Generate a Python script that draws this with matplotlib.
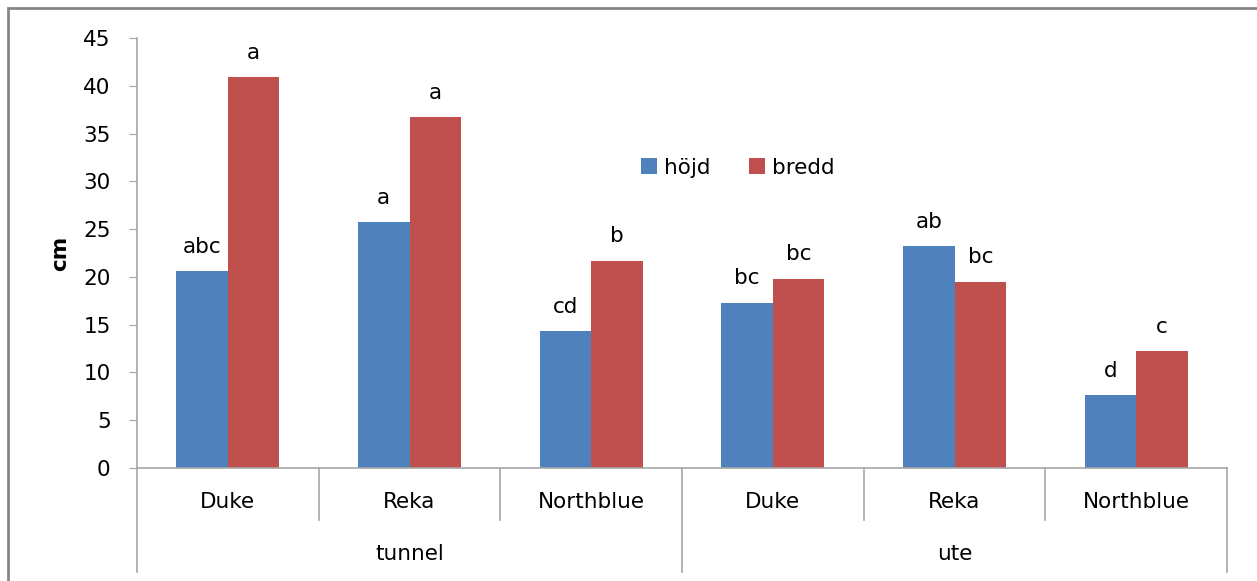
import numpy as np
import matplotlib.pyplot as plt
from matplotlib.patches import Rectangle

# Data
places = ['tunnel', 'ute']
sorter = ['Duke', 'Reka', 'Northblue', 'Duke', 'Reka', 'Northblue']
hojd = [20.6, 25.7, 14.3, 17.3, 23.2, 7.6]
bredd = [40.9, 36.7, 21.7, 19.8, 19.5, 12.2]
hojd_letters = ['abc', 'a', 'cd', 'bc', 'ab', 'd']
bredd_letters = ['a', 'a', 'b', 'bc', 'bc', 'c']

blue = '#4F81BD'
red = '#C0504D'
grey = '#A6A6A6'
fs = 15.5

plt.rcParams['font.family'] = ['DejaVu Sans']

fig = plt.figure(figsize=(12.57, 5.81), dpi=100)
ax = fig.add_axes([137 / 1257, 113 / 581, 1090 / 1257, 430 / 581])

x = np.arange(len(sorter))
w = 0.284
ax.bar(x - w / 2, hojd, w, color=blue, label='höjd')
ax.bar(x + w / 2, bredd, w, color=red, label='bredd')

for i in range(len(sorter)):
    ax.text(x[i] - w / 2, hojd[i] + 1.5, hojd_letters[i], ha='center', va='bottom', fontsize=fs)
    ax.text(x[i] + w / 2, bredd[i] + 1.5, bredd_letters[i], ha='center', va='bottom', fontsize=fs)

ax.set_xlim(-0.5, len(sorter) - 0.5)
ax.set_ylim(0, 45)
ax.set_yticks(range(0, 46, 5))
ax.tick_params(axis='y', labelsize=fs, length=6, color=grey, pad=13)
ax.set_xticks([])
for s in ['top', 'right']:
    ax.spines[s].set_visible(False)
ax.spines['left'].set_color(grey)
ax.spines['bottom'].set_color(grey)
ax.spines['left'].set_linewidth(1.2)
ax.spines['bottom'].set_linewidth(1.2)
ax.set_ylabel('cm', fontsize=fs, fontweight='bold')
ax.yaxis.set_label_coords(-0.061, 0.5)

# multi-level category axis
tr = ax.get_xaxis_transform()
for i, name in enumerate(sorter):
    ax.text(x[i], -0.078, name, transform=tr, ha='center', va='center', fontsize=fs)
for b in [0.5, 1.5, 3.5, 4.5]:
    ax.plot([b, b], [0, -0.121], transform=tr, color=grey, lw=1.2, clip_on=False)
for b in [-0.5, 2.5, 5.5]:
    ax.plot([b, b], [0, -0.242], transform=tr, color=grey, lw=1.2, clip_on=False)
for j, p in enumerate(places):
    ax.text(1 + 3 * j, -0.2, p, transform=tr, ha='center', va='center', fontsize=fs)

ax.legend(loc='center', bbox_to_anchor=(0.551, 0.698), ncol=2, frameon=False,
          fontsize=fs, handlelength=0.75, handleheight=0.75, handletextpad=0.3,
          columnspacing=1.8)

# outer chart border
fig.add_artist(Rectangle((8 / 1257, -0.1), 1.2, (573 / 581) + 0.1, transform=fig.transFigure,
                         fill=False, edgecolor='#868686', lw=2))

fig.savefig('out.png', dpi=100)
